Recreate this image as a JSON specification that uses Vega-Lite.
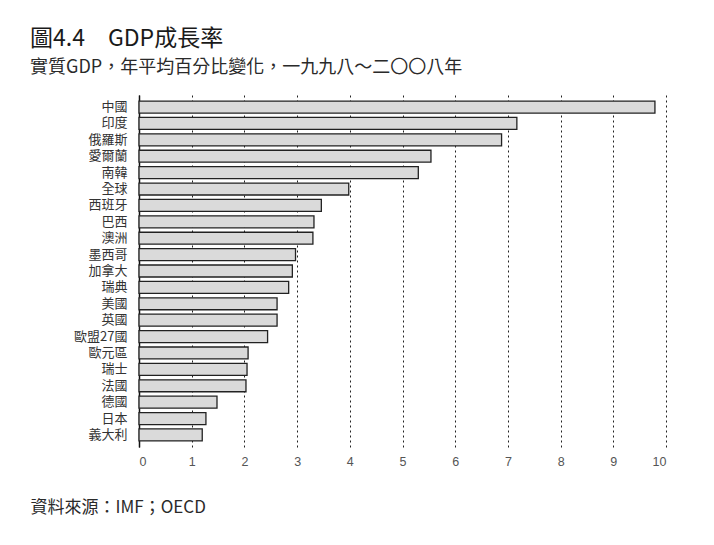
{
  "$schema": "https://vega.github.io/schema/vega-lite/v6.json",
  "autosize": "none",
  "width": 527,
  "height": 352,
  "padding": {"left": 139, "top": 95, "right": 48, "bottom": 98},
  "background": "white",
  "title": {
    "text": "圖4.4　GDP成長率",
    "subtitle": "實質GDP，年平均百分比變化，一九九八～二〇〇八年",
    "anchor": "start",
    "frame": "group",
    "dx": -109,
    "offset": 18,
    "font": "Noto Sans CJK TC",
    "fontSize": 23,
    "fontWeight": "normal",
    "color": "#1a1a1a",
    "subtitleFont": "Noto Sans CJK TC",
    "subtitleFontSize": 18,
    "subtitleColor": "#2a2a2a",
    "subtitlePadding": 8
  },
  "data": {
    "values": [
      {"country": "中國", "growth": 9.79},
      {"country": "印度", "growth": 7.17},
      {"country": "俄羅斯", "growth": 6.88},
      {"country": "愛爾蘭", "growth": 5.54},
      {"country": "南韓", "growth": 5.3},
      {"country": "全球", "growth": 3.98},
      {"country": "西班牙", "growth": 3.46},
      {"country": "巴西", "growth": 3.32},
      {"country": "澳洲", "growth": 3.3},
      {"country": "墨西哥", "growth": 2.97},
      {"country": "加拿大", "growth": 2.91},
      {"country": "瑞典", "growth": 2.84},
      {"country": "美國", "growth": 2.62},
      {"country": "英國", "growth": 2.62},
      {"country": "歐盟27國", "growth": 2.44},
      {"country": "歐元區", "growth": 2.07},
      {"country": "瑞士", "growth": 2.05},
      {"country": "法國", "growth": 2.03},
      {"country": "德國", "growth": 1.48},
      {"country": "日本", "growth": 1.27},
      {"country": "義大利", "growth": 1.2}
    ]
  },
  "mark": {
    "type": "bar",
    "fill": "#dadada",
    "stroke": "#222222",
    "strokeWidth": 1.3
  },
  "encoding": {
    "y": {
      "field": "country",
      "type": "nominal",
      "sort": null,
      "scale": {"paddingInner": 0.27, "paddingOuter": 0.37},
      "axis": {
        "title": null,
        "ticks": false,
        "domainColor": "#111111",
        "domainWidth": 1.5,
        "labelFont": "Noto Sans CJK TC",
        "labelFontSize": 13,
        "labelColor": "#333333",
        "labelPadding": 12
      }
    },
    "x": {
      "field": "growth",
      "type": "quantitative",
      "scale": {"domain": [0, 10], "nice": false},
      "axis": {
        "values": [0, 1, 2, 3, 4, 5, 6, 7, 8, 9, 10],
        "domain": false,
        "ticks": false,
        "grid": true,
        "gridColor": "#222222",
        "gridDash": [2, 3],
        "gridWidth": 1,
        "labelFont": "Liberation Sans",
        "labelFontSize": 12.5,
        "labelColor": "#555555",
        "labelPadding": 8,
        "title": "資料來源：IMF；OECD",
        "titleFont": "Noto Sans CJK TC",
        "titleFontSize": 17,
        "titleFontWeight": "normal",
        "titleColor": "#2a2a2a",
        "titleAnchor": "start",
        "titleAlign": "left",
        "titleBaseline": "middle",
        "titleX": -109,
        "titleY": 60
      }
    }
  },
  "config": {"view": {"stroke": null}}
}
